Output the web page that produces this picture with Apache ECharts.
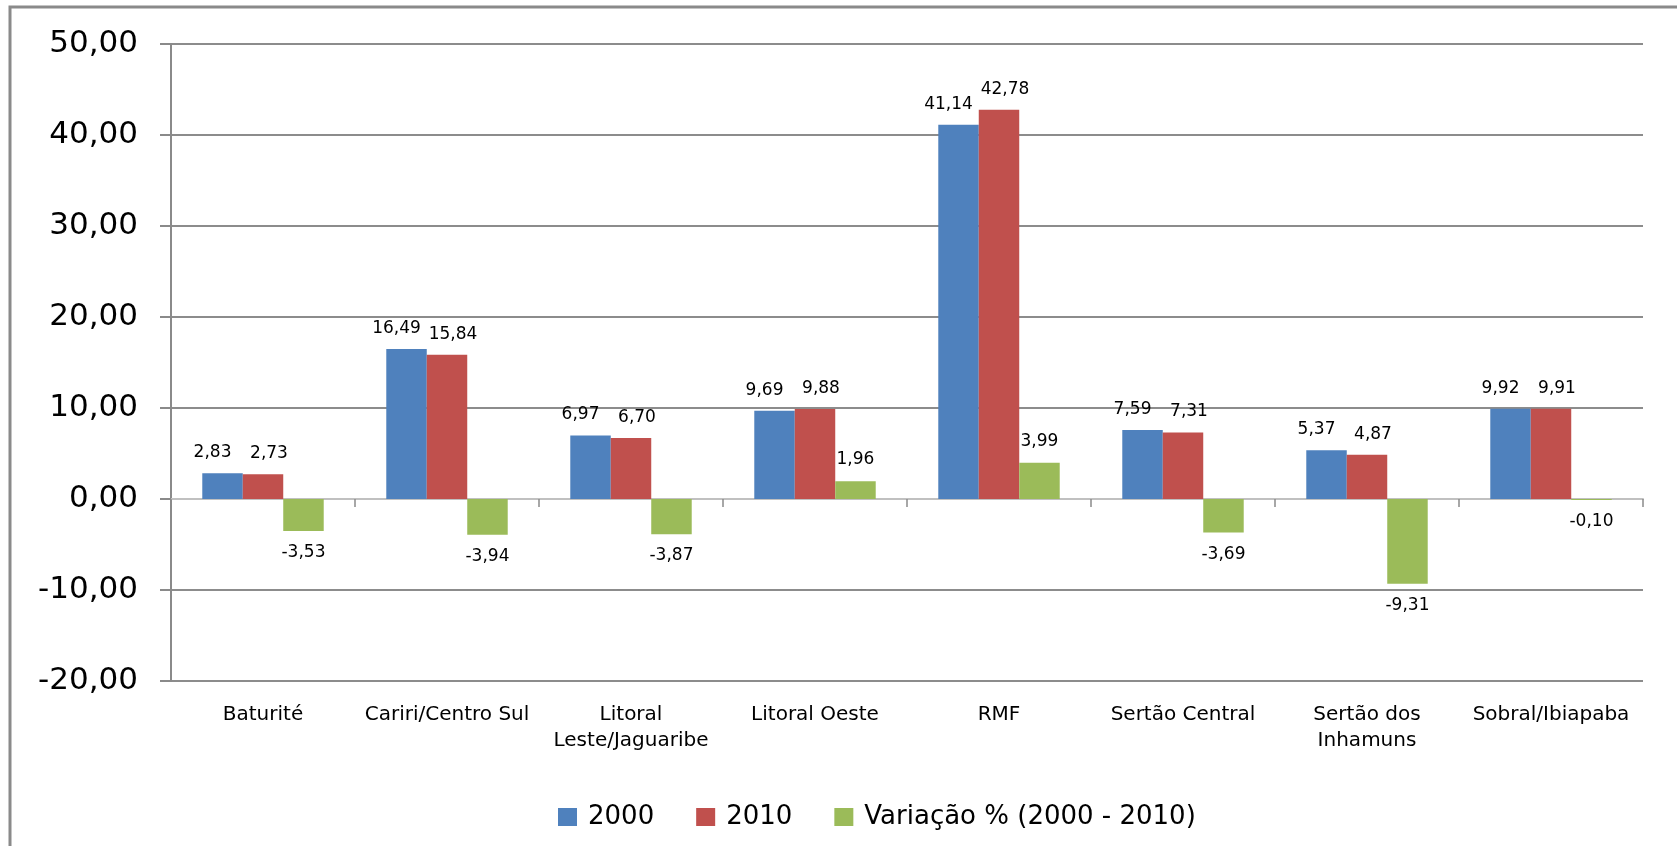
<!DOCTYPE html>
<html>
<head>
<meta charset="utf-8">
<title>Variação 2000 - 2010</title>
<script src="https://cdn.jsdelivr.net/npm/echarts/dist/echarts.min.js"></script>
<style>
  html, body { margin: 0; padding: 0; background: #fff; }
  #chart { width: 1677px; height: 846px; }
</style>
</head>
<body>
<div id="chart"></div>
<script>
const categories = [
  'Baturité',
  'Cariri/Centro Sul',
  'Litoral\nLeste/Jaguaribe',
  'Litoral Oeste',
  'RMF',
  'Sertão Central',
  'Sertão dos\nInhamuns',
  'Sobral/Ibiapaba'
]
const values2000 = [2.83, 16.49, 6.97, 9.69, 41.14, 7.59, 5.37, 9.92]
const values2010 = [2.73, 15.84, 6.70, 9.88, 42.78, 7.31, 4.87, 9.91]
const variacao = [-3.53, -3.94, -3.87, 1.96, 3.99, -3.69, -9.31, -0.10]
const yMin = -20
const yMax = 50
const yStep = 10

const font = '"DejaVu Sans", Verdana, sans-serif'
const fmt = v => Number(v).toFixed(2).replace('.', ',')

const barLabel = (offsetX, distance) => ({
  show: true,
  position: 'outside',
  distance: distance,
  offset: [offsetX, 0],
  formatter: p => fmt(p.value),
  fontSize: 17,
  fontFamily: font,
  color: '#000'
})

const chart = echarts.init(document.getElementById('chart'))

chart.setOption({
  animation: false,
  graphic: [{
    type: 'rect',
    shape: { x: 10, y: 7, width: 2000, height: 2000 },
    style: { fill: 'none', stroke: '#8a8a8a', lineWidth: 3 },
    silent: true
  }],
  grid: { left: 171, right: 34, top: 44, bottom: 165 },
  legend: {
    left: 553,
    top: 799,
    icon: 'rect',
    itemWidth: 19,
    itemHeight: 18,
    itemGap: 42,
    textStyle: { fontSize: 26, fontFamily: font, color: '#000', padding: [0, 0, 0, 6] },
    data: ['2000', '2010', 'Variação % (2000 - 2010)']
  },
  xAxis: [
    {
      type: 'category',
      data: categories,
      position: 'bottom',
      axisLine: { show: false, onZero: false },
      axisTick: { show: false },
      axisLabel: {
        interval: 0,
        fontSize: 20,
        lineHeight: 26,
        margin: 21,
        fontFamily: font,
        color: '#000'
      }
    },
    {
      type: 'category',
      data: categories,
      position: 'bottom',
      axisLine: { show: true, onZero: true, lineStyle: { color: '#c0c0c0', width: 2 } },
      axisTick: { show: true, length: 8, lineStyle: { color: '#8a8a8a', width: 1.5 } },
      axisLabel: { show: false }
    }
  ],
  yAxis: {
    type: 'value',
    min: yMin,
    max: yMax,
    interval: yStep,
    axisLine: { show: true, lineStyle: { color: '#8a8a8a', width: 2 } },
    axisTick: { show: true, length: 11, lineStyle: { color: '#8a8a8a', width: 2 } },
    splitLine: { lineStyle: { color: '#8c8c8c', width: 2 } },
    axisLabel: {
      fontSize: 31,
      fontFamily: font,
      color: '#000',
      margin: 33,
      formatter: v => fmt(v)
    }
  },
  series: [
    {
      name: '2000',
      type: 'bar',
      data: values2000,
      barWidth: '22%',
      barGap: '0%',
      itemStyle: { color: '#4F81BD' },
      label: barLabel(-10, 12)
    },
    {
      name: '2010',
      type: 'bar',
      data: values2010,
      barWidth: '22%',
      barGap: '0%',
      itemStyle: { color: '#C0504D' },
      label: barLabel(6, 12)
    },
    {
      name: 'Variação % (2000 - 2010)',
      type: 'bar',
      data: variacao,
      barWidth: '22%',
      barGap: '0%',
      itemStyle: { color: '#9BBB59' },
      label: barLabel(0, 13)
    }
  ]
})
</script>
</body>
</html>
